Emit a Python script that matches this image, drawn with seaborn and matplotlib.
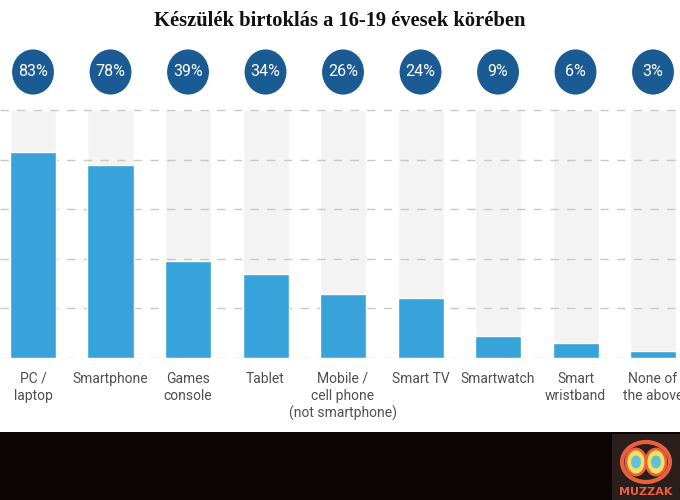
import matplotlib
matplotlib.use("Agg")
import matplotlib.pyplot as plt
import seaborn as sns
import pandas as pd
from matplotlib.patches import Rectangle, Ellipse

categories = ["PC /\nlaptop", "Smartphone", "Games\nconsole", "Tablet",
              "Mobile /\ncell phone\n(not smartphone)", "Smart TV",
              "Smartwatch", "Smart\nwristband", "None of\nthe above"]
values = [83, 78, 39, 34, 26, 24, 9, 6, 3]
value_labels = ["83%", "78%", "39%", "34%", "26%", "24%", "9%", "6%", "3%"]
track = [100] * len(categories)
title = "Készülék birtoklás a 16-19 évesek körében"

sns.set_theme(style="white")
plt.rcParams["font.family"] = ["Roboto", "DejaVu Sans"]

df = pd.DataFrame({"cat": categories, "value": values, "track": track})

fig = plt.figure(figsize=(6.8, 5.0), dpi=100)
fig.patch.set_facecolor("white")
ax = fig.add_axes([0, 0.284, 1, 0.636])

BAR_W = 0.594
sns.barplot(data=df, x="cat", y="track", color="#f3f3f3", width=BAR_W,
            saturation=1, ax=ax, zorder=1, order=categories)
sns.barplot(data=df, x="cat", y="value", color="#38a3db", width=BAR_W,
            saturation=1, ax=ax, zorder=3, order=categories)

ax.set_xlim(-0.426, 8.348)
ax.set_ylim(0, 128.2)
for g in [0, 20, 40, 60, 80, 100]:
    ax.axhline(g, color="#c8c8c8", lw=1.0, ls=(0, (6, 6)), zorder=2)

for s in ax.spines.values():
    s.set_visible(False)
ax.set_yticks([])
ax.set_ylabel("")
ax.set_xlabel("")
ax.set_xticks(range(len(categories)))
ax.set_xticklabels(categories, fontsize=10, color="#505050", linespacing=1.25)
ax.tick_params(axis="x", length=0, pad=10)

# value circles
for i, lab in enumerate(value_labels):
    e = Ellipse((i, 115.3), width=0.54, height=18.2, facecolor="#1b5b94",
                edgecolor="none", zorder=4, clip_on=False)
    ax.add_patch(e)
    ax.text(i, 115.3, lab, ha="center", va="center", color="white",
            fontsize=11.5, zorder=5)

fig.text(0.5, 0.958, title, ha="center", va="center",
         fontsize=14.8, fontweight="bold", family="Liberation Serif",
         color="#111111")

# dark footer band
fig.patches.append(Rectangle((0, 0), 1, 68 / 500, transform=fig.transFigure,
                             facecolor="#0d0505", edgecolor="none", zorder=0))
# logo approximation
lax = fig.add_axes([612 / 680, 0, 68 / 680, 66 / 500], zorder=5)
lax.set_xlim(0, 68)
lax.set_ylim(0, 66)
lax.axis("off")
lax.add_patch(Rectangle((0, 0), 68, 66, facecolor="#2a1f1c", edgecolor="none"))
lax.add_patch(Ellipse((34, 38), 48, 40, facecolor="none", edgecolor="#e8603c", lw=3))
lax.add_patch(Ellipse((24, 38), 20, 26, facecolor="#f4e05a", edgecolor="#e8603c", lw=2))
lax.add_patch(Ellipse((44, 38), 20, 26, facecolor="#f4e05a", edgecolor="#e8603c", lw=2))
lax.add_patch(Ellipse((24, 38), 10, 13, facecolor="#5fc1d9", edgecolor="none"))
lax.add_patch(Ellipse((44, 38), 10, 13, facecolor="#5fc1d9", edgecolor="none"))
lax.text(34, 8, "MUZZAK", ha="center", va="center", color="#e8603c",
         fontsize=8, fontweight="bold", family="DejaVu Sans")

fig.savefig("out.png", dpi=100, facecolor="white")
